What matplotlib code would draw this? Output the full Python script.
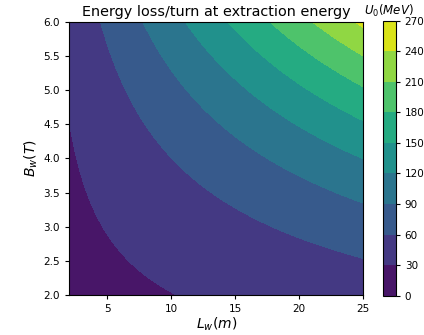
import numpy as np
import matplotlib
matplotlib.use("Agg")
import matplotlib.pyplot as plt

# Wiggler length and peak field ranges
L_w = np.linspace(2.0, 25.0, 300)      # m
B_w = np.linspace(2.0, 6.0, 300)       # T

# Energy loss per turn: dipole contribution plus wiggler term ~ L_w * B_w^2
U_dipole = 19.5        # MeV
C_wiggler = 0.252      # MeV / (m T^2)

levels = np.arange(0, 271, 30)
cbar_ticks = [0, 30, 60, 90, 120, 150, 180, 210, 240, 270]

LL, BB = np.meshgrid(L_w, B_w)
U0 = U_dipole + C_wiggler * LL * BB**2

fig = plt.figure(figsize=(4.24, 3.35), dpi=100)
ax = fig.add_axes([68.9 / 424, 1 - 295 / 335, (363.3 - 68.9) / 424, (295 - 21.7) / 335])
cax = fig.add_axes([382.7 / 424, 1 - 295.7 / 335, 13 / 424, (295.7 - 20.7) / 335])

cs = ax.contourf(LL, BB, U0, levels=levels, cmap="viridis")
ax.set_xticks([5, 10, 15, 20, 25])
ax.set_yticks(np.arange(2.0, 6.01, 0.5))
ax.tick_params(labelsize=7.5, length=3)
ax.set_xlabel(r"$L_w(m)$", fontsize=10, labelpad=1)
ax.set_ylabel(r"$B_w(T)$", fontsize=10, labelpad=2)
ax.set_title("Energy loss/turn at extraction energy", fontsize=10.4, pad=4)

cb = fig.colorbar(cs, cax=cax, ticks=cbar_ticks)
cb.ax.tick_params(labelsize=7.5, length=3)
cb.ax.set_title(r"$U_0(MeV)$", fontsize=8.5, pad=4.5)

fig.savefig("out.png", dpi=100)
